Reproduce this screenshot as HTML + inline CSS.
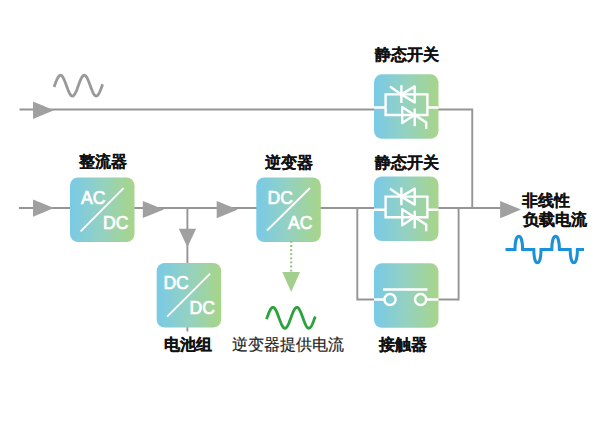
<!DOCTYPE html>
<html><head><meta charset="utf-8">
<style>
html,body{margin:0;padding:0;background:#fff;width:600px;height:428px;overflow:hidden}
svg{display:block}
.lb{font-family:"Liberation Sans",sans-serif;font-size:16px;font-weight:bold;fill:#111;stroke:#111;stroke-width:0.18px}
.lr{font-family:"Liberation Sans",sans-serif;font-size:16px;fill:#1e1e1e;stroke:#1e1e1e;stroke-width:0.2px}
.bt{font-family:"Liberation Sans",sans-serif;font-size:17.6px;fill:#fff;stroke:#fff;stroke-width:0.7px}
</style></head><body>
<svg width="600" height="428" viewBox="0 0 600 428">
<defs>
<linearGradient id="g" x1="0" y1="0" x2="1" y2="0">
<stop offset="0" stop-color="#79cae7"/>
<stop offset="0.5" stop-color="#94d1c0"/>
<stop offset="1" stop-color="#a8d589"/>
</linearGradient>
</defs>
<g fill="none" stroke="#959595" stroke-width="1.9">
<path d="M19.5 109.45H472.25V208"/>
<path d="M19 208H505"/>
<path d="M187.4 208V331.5"/>
<path d="M357.3 208V299.5H458.6V208"/>
</g>
<g fill="#a0a0a0">
<path d="M33 101.6V119L54 110.2Z"/>
<path d="M33 199.4V216.8L54 208.1Z"/>
<path d="M142.8 200.9V218.1L164 209.5Z"/>
<path d="M178.8 228.8H196.1L187.4 247.2Z"/>
<path d="M216.7 200.9V218.2L237.8 209.6Z"/>
<path d="M500.1 200.9V218.3L521 209.6Z"/>
</g>
<!-- gray sine -->
<path id="gs" d="M54.07 86.95 L54.48 85.85 L54.88 84.74 L55.29 83.64 L55.69 82.56 L56.10 81.52 L56.50 80.53 L56.91 79.59 L57.31 78.72 L57.72 77.94 L58.12 77.24 L58.52 76.63 L58.93 76.13 L59.33 75.74 L59.74 75.46 L60.14 75.30 L60.55 75.25 L60.95 75.32 L61.36 75.51 L61.76 75.82 L62.17 76.24 L62.57 76.77 L62.98 77.39 L63.38 78.11 L63.78 78.92 L64.19 79.80 L64.59 80.75 L65.00 81.76 L65.40 82.81 L65.81 83.89 L66.21 85.00 L66.62 86.11 L67.02 87.21 L67.43 88.30 L67.83 89.36 L68.23 90.37 L68.64 91.33 L69.04 92.23 L69.45 93.05 L69.85 93.79 L70.26 94.43 L70.66 94.98 L71.07 95.41 L71.47 95.74 L71.88 95.95 L72.28 96.04 L72.69 96.02 L73.09 95.88 L73.49 95.62 L73.90 95.25 L74.30 94.76 L74.71 94.18 L75.11 93.49 L75.52 92.72 L75.92 91.87 L76.33 90.94 L76.73 89.96 L77.14 88.93 L77.54 87.85 L77.95 86.76 L78.35 85.65 L78.75 84.54 L79.16 83.45 L79.56 82.37 L79.97 81.34 L80.37 80.36 L80.78 79.43 L81.18 78.58 L81.59 77.81 L81.99 77.12 L82.40 76.54 L82.80 76.05 L83.21 75.68 L83.61 75.42 L84.01 75.28 L84.42 75.26 L84.82 75.35 L85.23 75.56 L85.63 75.89 L86.04 76.32 L86.44 76.87 L86.85 77.51 L87.25 78.25 L87.66 79.07 L88.06 79.97 L88.47 80.93 L88.87 81.94 L89.27 83.00 L89.68 84.09 L90.08 85.19 L90.49 86.30 L90.89 87.41 L91.30 88.49 L91.70 89.54 L92.11 90.55 L92.51 91.50 L92.92 92.38 L93.32 93.19 L93.72 93.91 L94.13 94.53 L94.53 95.06 L94.94 95.48 L95.34 95.79 L95.75 95.98 L96.15 96.05 L96.56 96.00 L96.96 95.84 L97.37 95.56 L97.77 95.17 L98.18 94.67 L98.58 94.06 L98.98 93.36 L99.39 92.58 L99.79 91.71 L100.20 90.77 L100.60 89.78 L101.01 88.74 L101.41 87.66 L101.82 86.56 L102.22 85.45 L102.63 84.35" fill="none" stroke="#999" stroke-width="2.8"/>
<path id="gr" d="M266.52 319.12 L266.93 318.00 L267.33 316.88 L267.74 315.77 L268.15 314.68 L268.55 313.63 L268.96 312.63 L269.37 311.68 L269.77 310.81 L270.18 310.01 L270.58 309.31 L270.99 308.70 L271.40 308.19 L271.80 307.79 L272.21 307.51 L272.62 307.35 L273.02 307.30 L273.43 307.37 L273.84 307.57 L274.24 307.88 L274.65 308.30 L275.05 308.83 L275.46 309.46 L275.87 310.19 L276.27 311.01 L276.68 311.90 L277.09 312.86 L277.49 313.87 L277.90 314.93 L278.30 316.03 L278.71 317.14 L279.12 318.26 L279.52 319.38 L279.93 320.48 L280.34 321.54 L280.74 322.57 L281.15 323.54 L281.56 324.44 L281.96 325.27 L282.37 326.02 L282.77 326.67 L283.18 327.21 L283.59 327.66 L283.99 327.99 L284.40 328.20 L284.81 328.29 L285.21 328.27 L285.62 328.13 L286.02 327.86 L286.43 327.49 L286.84 327.00 L287.24 326.41 L287.65 325.72 L288.06 324.94 L288.46 324.08 L288.87 323.14 L289.27 322.15 L289.68 321.11 L290.09 320.03 L290.49 318.92 L290.90 317.80 L291.31 316.68 L291.71 315.57 L292.12 314.49 L292.53 313.45 L292.93 312.46 L293.34 311.52 L293.74 310.66 L294.15 309.88 L294.56 309.19 L294.96 308.60 L295.37 308.11 L295.78 307.74 L296.18 307.47 L296.59 307.33 L296.99 307.31 L297.40 307.40 L297.81 307.61 L298.21 307.94 L298.62 308.39 L299.03 308.93 L299.43 309.58 L299.84 310.33 L300.24 311.16 L300.65 312.06 L301.06 313.03 L301.46 314.06 L301.87 315.12 L302.28 316.22 L302.68 317.34 L303.09 318.46 L303.50 319.57 L303.90 320.67 L304.31 321.73 L304.71 322.74 L305.12 323.70 L305.53 324.59 L305.93 325.41 L306.34 326.14 L306.75 326.77 L307.15 327.30 L307.56 327.72 L307.96 328.03 L308.37 328.23 L308.78 328.30 L309.18 328.25 L309.59 328.09 L310.00 327.81 L310.40 327.41 L310.81 326.90 L311.21 326.29 L311.62 325.59 L312.03 324.79 L312.43 323.92 L312.84 322.97 L313.25 321.97 L313.65 320.92 L314.06 319.83 L314.47 318.72 L314.87 317.60 L315.28 316.48" fill="none" stroke="#2ba23b" stroke-width="2.8"/>
<path id="bw" d="M505.5 249.4H515.00C515.00 231.93 522.60 231.93 522.60 249.40H533.80C533.80 267.27 541.00 267.27 541.00 249.40H551.80C551.80 231.93 559.40 231.93 559.40 249.40H570.20C570.20 267.27 577.40 267.27 577.40 249.40H584" fill="none" stroke="#1a91d8" stroke-width="3"/>
<!-- boxes -->
<rect x="70" y="177.5" width="64.5" height="64.5" rx="8" fill="url(#g)"/>
<rect x="256.3" y="177.5" width="64.5" height="64.5" rx="8" fill="url(#g)"/>
<rect x="156.7" y="263" width="64.5" height="64.5" rx="8" fill="url(#g)"/>
<rect x="374" y="74.3" width="64.5" height="64.5" rx="8" fill="url(#g)"/>
<rect x="374" y="176.5" width="64.5" height="64.5" rx="8" fill="url(#g)"/>
<rect x="374" y="263.3" width="64.5" height="64.5" rx="8" fill="url(#g)"/>
<!-- diagonals -->
<g stroke="#fff" stroke-width="1.8" fill="none">
<path d="M123.6 188.1L80.6 231.3"/>
<path d="M310 188L267 230.5"/>
<path d="M210.2 273.7L167.2 316.7"/>
</g>
<!-- box texts -->
<text class="bt" x="81" y="204">AC</text>
<text class="bt" x="103" y="229">DC</text>
<text class="bt" x="267.5" y="204">DC</text>
<text class="bt" x="288" y="229">AC</text>
<text class="bt" x="163.4" y="289">DC</text>
<text class="bt" x="189.6" y="314">DC</text>
<!-- thyristor symbols -->
<g id="thy" stroke="#fff" stroke-width="2.4" fill="none" stroke-linejoin="miter">
<path d="M374 107.5H385.6M427.4 107.5H438.5"/>
<path d="M385.6 94.4H427.4V115H385.6Z"/>
<path d="M401.4 85.2V103"/><path d="M414.7 86.4L401.4 94.4L414.7 102.4Z" stroke-linejoin="round"/>
<path d="M390 86.5L401.4 94.4"/>
<path d="M402.2 107V123L414.4 115Z" stroke-linejoin="round"/><path d="M414.7 108.5V126.2"/>
<path d="M414.7 115L426.2 122.5V129"/>
</g>
<use href="#thy" y="102.2"/>
<!-- contactor -->
<g stroke="#fff" stroke-width="2.5" fill="none">
<path d="M374 299.5H384M426.5 299.5H438.5M383 289.5H427.5"/>
<circle cx="390" cy="299.5" r="5.6"/>
<circle cx="420.6" cy="299.5" r="5.6"/>
</g>
<!-- green dotted arrow -->
<path d="M291.2 241V272" stroke="#8cbf78" stroke-width="2" stroke-dasharray="1.8 2.3" fill="none"/>
<path d="M282.3 272H300L291.2 292Z" fill="#a3cf8e"/>
<!-- labels -->
<text class="lb" x="78.5" y="167.4">整流器</text>
<text class="lb" x="264.5" y="167.8">逆变器</text>
<text class="lb" x="375" y="60">静态开关</text>
<text class="lb" x="375" y="167.5">静态开关</text>
<text class="lb" x="164.2" y="349.7">电池组</text>
<text class="lb" x="379" y="349.8">接触器</text>
<text class="lr" x="231.8" y="349.8">逆变器提供电流</text>
<text class="lb" x="522" y="206.2">非线性</text>
<text class="lb" x="522.5" y="224.8">负载电流</text>
</svg>
</body></html>
